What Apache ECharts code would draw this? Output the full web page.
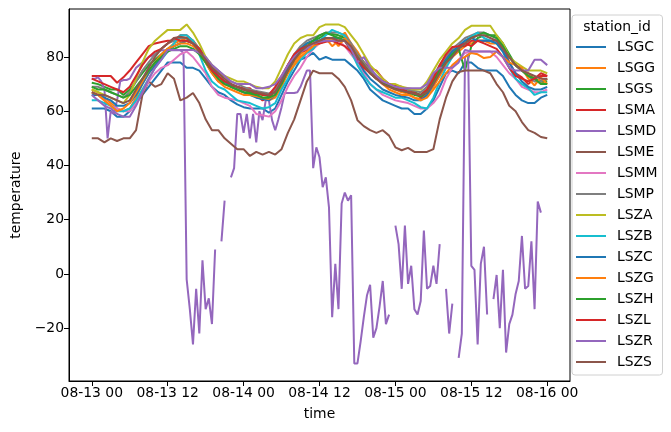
<!DOCTYPE html>
<html>
<head>
<meta charset="utf-8">
<script src="https://cdn.jsdelivr.net/npm/echarts@6/dist/echarts.min.js"></script>
<style>
  html, body { margin: 0; padding: 0; background: #fff; }
  #chart { width: 671px; height: 432px; }
</style>
</head>
<body>
<div id="chart"></div>
<script>
'use strict';
// hourly readings, 08-13 00 .. 08-16 00 (73 points)
var stations = ['LSGC', 'LSGG', 'LSGS', 'LSMA', 'LSMD', 'LSME', 'LSMM', 'LSMP',
  'LSZA', 'LSZB', 'LSZC', 'LSZG', 'LSZH', 'LSZL', 'LSZR', 'LSZS'];
var tickHours = [0, 12, 24, 36, 48, 60, 72];
var tickLabels = ['08-13 00', '08-13 12', '08-14 00', '08-14 12', '08-15 00', '08-15 12', '08-16 00'];
var yTicks = [-20, 0, 20, 40, 60, 80];

var LSGC = [61,61,61,60,58,58,60,63,66,69, 72,75,78,78,78,76,76,75,72,69, 67,66,64,62.5,61.5,61,61,61,59.5,61,
  66,71,75,79,80,81.5,79,80,79,79, 79,77,75,72,68,66,64,63,62,61, 61,59,59,61,64,69,74,75,74,78,
  78,76,75,75,75,73,69,66,64,63, 63,65,66];
var LSGG = [68,67,65,63,61,60,61,65,70,74, 77,80,83,85,86,87,86,83,79,75, 72,70,69,68,67,66.5,66,65,64,65,
  69,74,78,81,83,84,86,87,84,86, 89,85,82,78,75,72,70,69,68,67, 66.5,65,64.5,66,69,73,77,80,82,84,
  85,86,86,85,85,83,80,77,75,74, 72,70,72];
var LSGS = [70.5,70,69,68,68,66,68,71,74,77, 79,81,83,84,85,86,85,82,79,76, 73,71,70,69,68,67,66.5,66,65.5,67,
  71,76,80,83,85,86,87,88.5,88.5,88, 87,84,81,78,75,73,71,70,69,68, 68,67,66,68,72,76,79,81,83,75,
  84,87,88,88,88,85,81,77,75,73, 72,71,71];
var LSMA = [73,73,73,73,70.5,72.5,75,78,81,84, 85,85.5,86,86,88,88,86,82,78,74, 71,70,69.5,69,68.5,68.5,66,64,65,68,
  72,77,80,82,82.5,83,85.5,86,86,86, 86,82,80,78,76,75,72,70,69.5,69, 67,67,65,67,71,76,80,82,84,84,
  86,86,86,86,86,84,78,74,72.5,70, 72,74,73];
var LSME = [50,50,48.5,50,49,50,50,53,66,71, 69,70,74,72,64,65,66.7,63,57,53, 53,50,48,46,46,43.5,45,44,45,44,
  46,52,57,64,71,75,74,74,74,72, 69,64,56.7,54.5,53,52,53,51,46.7,45.6, 46.5,45,45,45,46,57,65,71,74.5,75,
  75,75,75,74,70,67,62,60,56,53, 52,50.5,50];
var LSMM = [67,66,64,62,61,60,60,63,67,71, 74,76,77,79,81,82,80,77,74,69, 66,65,64.5,64,63,62,59,58.5,58,60,
  64,69,73,76,80,83,85,86,86,86, 84,81,78,74,70,68,66,65,64,63.5, 63,62,61,61,63,66,72,76,79,81.5,
  82,82,82,82,80,77,74,72,69,68, 67,67,68];
var LSMP = [69,69,68,67,66,65,67,71,75,78, 81,83,85,86,87,87,86,83,80,77, 75,73,71,70,69,68,67.5,67,66.5,68,
  72,77,81,84,86,87,88,89,89,89, 88,85,81,78,75,73,71,70,69,68.5, 68,67.5,67,69,73,77,80,83,85,87,
  88,89,89,88,87,84,80,77,75,73, 71,71,72];
var LSZA = [68,67,66,65,64,63,66,72,78,83, 86,88,90,90,90,92,89,85,80,77, 74,73,72,71,71,70,69,68.5,68.5,71,
  76,81,85,87,88,88,91,92,92,92, 91,88,85,81,77,74.5,72,70,70,69, 68.5,68,68,71,75,79,82,85,87,90,
  91.5,91.5,91.5,91.5,88,85,80,78,76.5,75, 75,75,74];
var LSZB = [64,64,63,62,60,60,61,64,68,72, 76,79,82,85,88,88,86,81,75,71, 69,68,66,64,63.5,63,62,61,61.5,63,
  68,72,77,79,81.5,83,86,88,90,89, 88,82,77,73,70,68,67,66,65,65, 64,63,61.5,61,65,71,76,80,84,86,
  87.5,89,87,86,85,82,76,72,70,68.5, 66,67,67];
var LSZC = [66,66,65,64,62,62,63,66,70,74, 77,80,82,84,85,86,85,83,79,76, 73,71,69,68,67,66,65,64.5,64,66,
  71,76,80,83,85,86,86,87,87,87, 86,83,79,75,72,70,68,67,66,65.5, 65,64,64,66,70,75,79,82,84,86,
  87,86,86,86,85,82,78,74,71,69, 68,68,69];
var LSZG = [67,66,64,62,60,61,63,67,71,75, 78,81,83,84,85,85,84,82,78,74, 71,69,68,67,66,66,65.5,65,64.5,66,
  70,74,77,80,82,84,85,86,87,84, 87,84,80,77,74,72,70,68,67,66, 66,65,64,65,68,71,74,77,79,80,
  81.5,81,79.6,80,82,80,78,77,76,72, 69.5,72.5,70];
var LSZH = [69,68,68,67,66,65,66,69,72,75, 78,80,82,83,84,84,83,81,78,75, 72,70,69,68,67,66.5,66,65,65,66,
  70,75,79,82,84,86,88,89,88,87, 86,83,80,77,74,72,70.5,69.5,68.5,67.5, 67,66,65.5,67,71,75,78,81,83,85,
  87,88,89,88,87,84,80,77,75,73, 72,70,70];
var LSZL = [72,71,70,69,68,67,69,73,77,80, 82,83,85,87,86,86,85,83,79,75, 73,71,70,69,68,67.5,67,66,66,69,
  73,77,81,83,84,85,85,85.6,86,85, 84,82,79,76,74,72,71,70,69,68, 67,66.5,66,68,72,77,81,83.7,84,85,
  84,86,85,84,83,80,76,73,72,71, 72,73,73];
var LSZR = [66,64,62,61,59,58,58,62,67,72, 76,79,82.6,82.6,82.6,82.6,82.6,81.5,80,77, 75,73,71,70,70,70,68.5,68.5,69,70,
  73,77,80,82,83,85,85.6,86,86,86, 86,83,78,80,76,73,71,70,69,68.5, 68.5,68.5,68.5,70,74,76,76,76,78,82.6,
  82,82,82,82,82,80,76,75,75,75, 79,79,77];
var LSZS = [67,66,66,65,64,63,64,68,72,76, 80,83,85,87,87.5,87,85,82,79,76, 74,72,70,69,68,67.5,67,66.5,66,67,
  71,75,79,82,84,85,86,87,87,86, 86,84,80,77,74,72,70,69,68,67.5, 67,66.5,66,67,70,74,78,80,83,85,
  87,88,88,87,86,83,80,77,75,74, 73,72,72];
// LSMD is half-hourly (145 points), null = missing
var LSMD = [72,72,72.5,71,68,50,60,59,64,71, 71.5,71.5,72,74,76,77,78,79,80,80.5,
  81,82,82.5,82.5,82.5,82.5,82.5,82.5,82.5,81.5, -2,-13,-26,-5.5,-22,5,-13,-9,-18.5,9,
  null,12,27,null,35.6,39,59,59,52,59, 50,59,48.5,60,56.7,64,64,56.7,53,57,
  61.5,66.7,66.7,66.7,66.7,67,69,72,75,75, 39,46.7,43,32,35.6,24.5,-16,3.7,-13,26,
  30,27,29,-33,-33,-25,-16,-8,-4,-23.5, -20,-12,-2.6,-18.5,-15,null,17.8,11,-5.5,17.8,
  -3.7,3,-13,-15,-10,16,-5.5,-4.5,3,-3.7, 11,null,-5.5,-22,-11,null,-31,-22,80,81,
  3,1.5,-26,3.7,10,-15,null,-9.3,-0.4,-20, 1.5,-29,-18.5,-15,-7.4,-2.6,14,-5.5,-4.5,12,
  -13,26.7,22.6,null,null];

var values = {
  LSGC: LSGC, LSGG: LSGG, LSGS: LSGS, LSMA: LSMA, LSMD: LSMD, LSME: LSME, LSMM: LSMM, LSMP: LSMP,
  LSZA: LSZA, LSZB: LSZB, LSZC: LSZC, LSZG: LSZG, LSZH: LSZH, LSZL: LSZL, LSZR: LSZR, LSZS: LSZS
};
var colors = ['#1f77b4', '#ff7f0e', '#2ca02c', '#d62728', '#9467bd', '#8c564b', '#e377c2', '#7f7f7f',
  '#bcbd22', '#17becf'];
var font = 'DejaVu Sans';

function toPoints(arr) {
  // hourly series step 1h, LSMD step 0.5h
  var step = 72 / (arr.length - 1);
  var pts = [];
  for (var i = 0; i < arr.length; i++) {
    pts.push([i * step, arr[i]]);
  }
  return pts;
}

var series = [];
for (var i = 0; i < stations.length; i++) {
  series.push({
    name: stations[i],
    type: 'line',
    data: toPoints(values[stations[i]]),
    symbol: 'none',
    connectNulls: false,
    color: colors[i % 10],
    lineStyle: { width: 2 }
  });
}

var chart = echarts.init(document.getElementById('chart'), null, { renderer: 'canvas' });
chart.setOption({
  animation: false,
  color: colors,
  textStyle: { fontFamily: font },
  grid: { left: 69, right: 101, top: 9, bottom: 51, show: true, borderColor: '#000', borderWidth: 1 },
  xAxis: {
    type: 'value', min: -3.6, max: 75.6,
    name: 'time', nameLocation: 'middle', nameGap: 26,
    nameTextStyle: { fontSize: 13.9, color: '#000', fontFamily: font },
    axisLine: { onZero: false, lineStyle: { color: '#000' } },
    splitLine: { show: false },
    axisTick: { length: 5, customValues: tickHours, lineStyle: { color: '#000' } },
    axisLabel: {
      customValues: tickHours, margin: 5, fontSize: 13.9, color: '#000', fontFamily: font,
      formatter: function (v) {
        var idx = tickHours.indexOf(v);
        return idx >= 0 ? tickLabels[idx] : '';
      }
    }
  },
  yAxis: {
    type: 'value', min: -39.5, max: 97.7,
    name: 'temperature', nameLocation: 'middle', nameGap: 46, nameRotate: 90,
    nameTextStyle: { fontSize: 13.9, color: '#000', fontFamily: font },
    axisLine: { show: true, onZero: false, lineStyle: { color: '#000' } },
    splitLine: { show: false },
    axisTick: { show: true, length: 5, customValues: yTicks, lineStyle: { color: '#000' } },
    axisLabel: {
      customValues: yTicks, margin: 5, fontSize: 13.9, color: '#000', fontFamily: font,
      formatter: function (v) {
        return String(v).replace('-', '\u2212');
      }
    }
  },
  legend: {
    orient: 'vertical', left: 572, top: 15,
    padding: [25, 5, 6, 4],
    itemGap: 7, itemWidth: 30, itemHeight: 2, icon: 'rect',
    borderColor: '#d0d0d0', borderWidth: 1, borderRadius: 3,
    textStyle: { fontSize: 13.9, color: '#000', fontFamily: font, lineHeight: 14, padding: [0, 0, 0, 6] },
    data: stations
  },
  graphic: [{
    type: 'text', x: 617, y: 27,
    style: { text: 'station_id', fontSize: 13.9, fontFamily: font, fill: '#000', align: 'center', verticalAlign: 'middle' }
  }],
  series: series
});
</script>
</body>
</html>
